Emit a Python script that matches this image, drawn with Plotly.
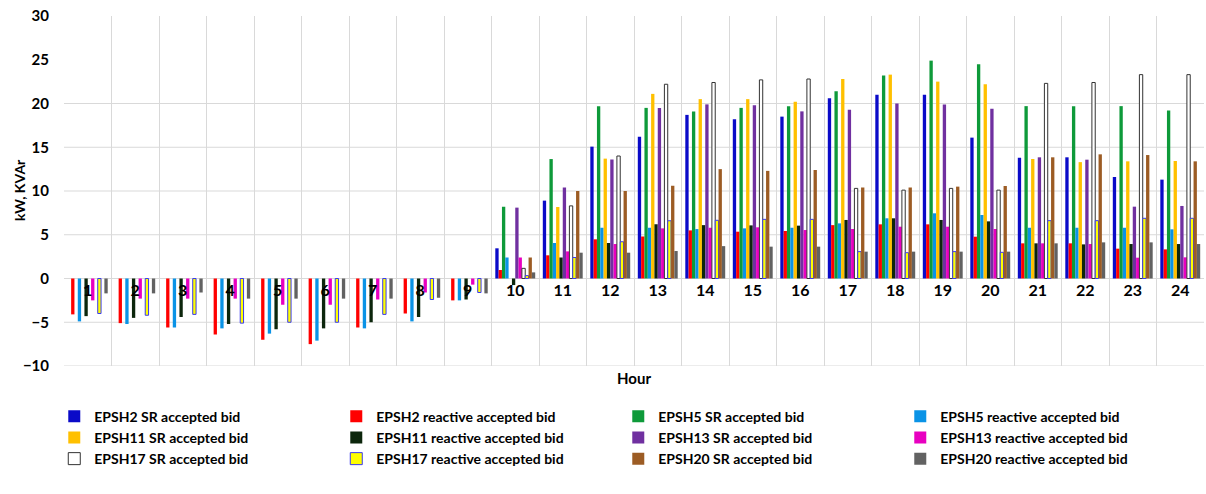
import plotly.graph_objects as go

hours = [str(h) for h in range(1, 25)]

N = None
epsh2_sr = [N]*9 + [3.45, 8.9, 15.07, 16.2, 18.7, 18.2, 18.5, 20.6, 21.0, 21.0, 16.1, 13.8, 13.85, 11.6, 11.3]
epsh2_re = [-4.1, -5.1, -5.6, -6.4, -7.0, -7.5, -5.6, -4.0, -2.5, 0.97, 2.65, 4.48, 4.8, 5.5, 5.35, 5.43, 6.1, 6.19, 6.19, 4.78, 4.02, 4.02, 3.41, 3.33]
epsh5_sr = [N]*9 + [8.2, 13.65, 19.7, 19.5, 19.1, 19.5, 19.7, 21.4, 23.2, 24.9, 24.5, 19.7, 19.7, 19.7, 19.2]
epsh5_re = [-4.9, -5.2, -5.6, -5.7, -6.3, -7.1, -5.7, -4.9, -2.5, 2.4, 4.06, 5.8, 5.8, 5.65, 5.73, 5.8, 6.3, 6.88, 7.45, 7.26, 5.8, 5.8, 5.8, 5.62]
epsh11_sr = [N]*10 + [8.17, 13.7, 21.1, 20.5, 20.5, 20.2, 22.8, 23.3, 22.5, 22.2, 13.66, 13.3, 13.39, 13.43]
epsh11_re = [-4.3, -4.5, -4.4, -5.2, -5.8, -5.7, -5.0, -4.4, -2.4, -0.75, 2.4, 4.06, 6.2, 6.1, 6.07, 6.04, 6.69, 6.88, 6.69, 6.53, 4.02, 3.9, 3.94, 3.94]
epsh13_sr = [N]*9 + [8.1, 10.4, 13.6, 19.5, 19.9, 19.8, 19.1, 19.3, 20.0, 19.9, 19.4, 13.85, 13.58, 8.21, 8.29]
epsh13_re = [-2.5, -2.3, -2.3, -2.3, -3.0, -3.0, -2.4, -1.6, -0.7, 2.4, 3.1, 3.94, 5.73, 5.8, 5.85, 5.54, 5.66, 5.92, 5.92, 5.66, 4.02, 3.94, 2.38, 2.42]
epsh17_sr = [N]*9 + [1.16, 8.3, 14.0, 22.2, 22.4, 22.7, 22.8, 10.3, 10.1, 10.3, 10.1, 22.3, 22.4, 23.3, 23.3]
epsh17_re = [-4.0, -4.2, -4.1, -5.1, -5.0, -5.0, -4.1, -2.4, -1.6, 0.33, 2.4, 4.2, 6.6, 6.65, 6.76, 6.76, 3.07, 2.95, 3.07, 2.99, 6.61, 6.61, 6.88, 6.88]
epsh20_sr = [N]*9 + [2.4, 10.0, 10.0, 10.6, 12.5, 12.3, 12.4, 10.4, 10.4, 10.5, 10.57, 13.85, 14.19, 14.11, 13.39]
epsh20_re = [-1.7, -1.7, -1.6, -2.3, -2.3, -2.3, -2.3, -2.2, -1.7, 0.7, 2.95, 2.95, 3.14, 3.7, 3.64, 3.64, 3.07, 3.07, 3.07, 3.07, 4.02, 4.13, 4.13, 3.94]

series_names = [
    "EPSH2 SR accepted bid", "EPSH2 reactive accepted bid",
    "EPSH5 SR accepted bid", "EPSH5 reactive accepted bid",
    "EPSH11 SR accepted bid", "EPSH11 reactive accepted bid",
    "EPSH13 SR accepted bid", "EPSH13 reactive accepted bid",
    "EPSH17 SR accepted bid", "EPSH17 reactive accepted bid",
    "EPSH20 SR accepted bid", "EPSH20 reactive accepted bid",
]
series_values = [epsh2_sr, epsh2_re, epsh5_sr, epsh5_re, epsh11_sr, epsh11_re,
                 epsh13_sr, epsh13_re, epsh17_sr, epsh17_re, epsh20_sr, epsh20_re]
fill_colors = ["#0A0AC8", "#FF0000", "#0E9A3A", "#0A93E6", "#FFC000", "#0C260C",
               "#7030A0", "#E800C0", "#FFFFFF", "#FFFF00", "#9C5C24", "#626262"]
line_colors = [None]*8 + ["#333333", "#3A3AF0", None, None]

y_ticks = [-10, -5, 0, 5, 10, 15, 20, 25, 30]
grid_values = [-10, -5, 0, 5, 10, 15, 20]

FONT = "Lato"

fig = go.Figure()
for name, vals, fc, lc in zip(series_names, series_values, fill_colors, line_colors):
    fig.add_trace(go.Bar(
        x=hours, y=vals, name=name,
        marker=dict(color=fc, line=dict(color=lc if lc else fc, width=1 if lc else 0)),
    ))

for g in grid_values:
    fig.add_shape(type="line", xref="paper", yref="y", x0=0, x1=1, y0=g, y1=g,
                  line=dict(color="#D9D9D9", width=1), layer="below")

fig.update_layout(
    width=1206, height=494,
    margin=dict(l=64, r=2, t=16, b=128),
    paper_bgcolor="white", plot_bgcolor="white",
    barmode="group", bargap=0.16, bargroupgap=0,
    font=dict(family=FONT, color="black", size=14, weight="bold"),
    xaxis=dict(
        type="category", anchor="free", position=0.25,
        tickson="boundaries", showgrid=True, gridcolor="#D9D9D9", gridwidth=1,
        showline=False, zeroline=False,
        ticks="outside", ticklen=19, tickcolor="rgba(0,0,0,0)",
        tickfont=dict(family=FONT, size=16, color="black", weight="bold"),
    ),
    yaxis=dict(
        range=[-10, 30], tickvals=y_ticks, showgrid=False, zeroline=False,
        showline=False,
        ticks="outside", ticklen=11, tickcolor="rgba(0,0,0,0)",
        tickfont=dict(family=FONT, size=15, color="black", weight="bold"),
    ),
    legend=dict(
        orientation="h", xref="container", x=0.045, xanchor="left",
        yref="container", y=0.189, yanchor="top",
        entrywidth=237, entrywidthmode="pixels", traceorder="normal",
        font=dict(family=FONT, size=14, color="black", weight="bold"),
        itemwidth=30,
    ),
    annotations=[
        dict(text="Hour", xref="paper", yref="paper", x=0.5, y=-0.034,
             showarrow=False, yanchor="middle",
             font=dict(family=FONT, size=15, color="black", weight="bold")),
        dict(text="kW, KVAr", xref="paper", yref="paper", x=-0.0386, y=0.503,
             showarrow=False, textangle=-90, xanchor="center", yanchor="middle",
             font=dict(family=FONT, size=14, color="black", weight="bold")),
    ],
)

fig.write_html("out.html")
